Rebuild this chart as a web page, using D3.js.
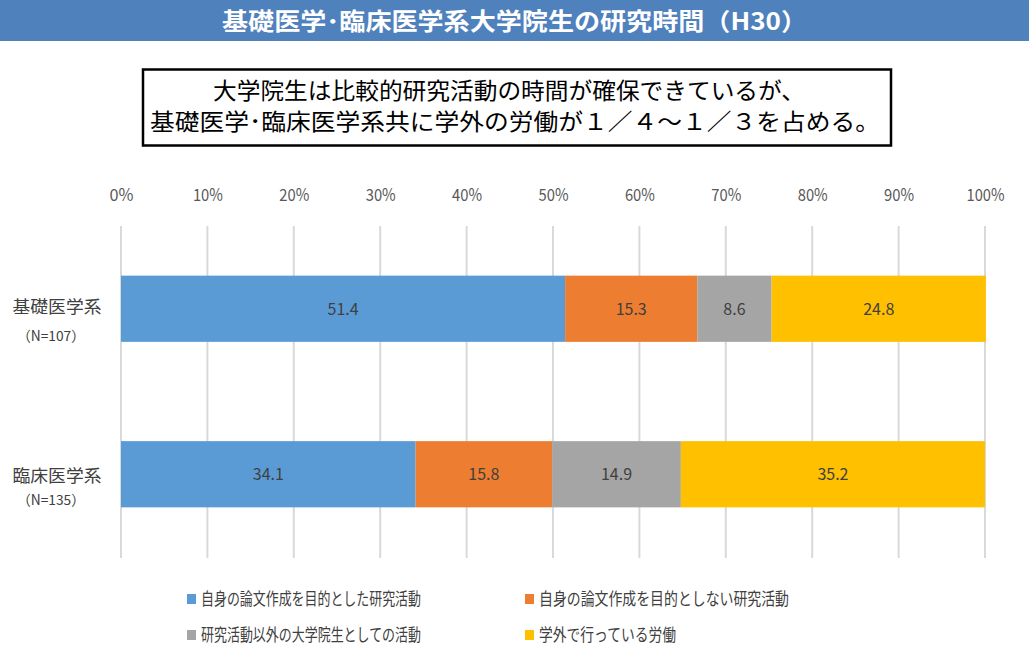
<!DOCTYPE html>
<html><head><meta charset="utf-8">
<script src="https://cdn.jsdelivr.net/npm/d3@7"></script>
<style>
html,body{margin:0;padding:0;background:#fff;}
svg{display:block;font-family:"Noto Sans CJK JP","Noto Sans",sans-serif;}
</style></head>
<body>
<svg id="c" width="1029" height="657"></svg>
<script>
const categories = ["基礎医学系", "臨床医学系"];
const sampleLabels = ["（N=107）", "（N=135）"];
const seriesNames = ["自身の論文作成を目的とした研究活動", "自身の論文作成を目的としない研究活動", "研究活動以外の大学院生としての活動", "学外で行っている労働"];
const ownPaperResearch = [51.4, 34.1];
const otherResearch = [15.3, 15.8];
const otherActivities = [8.6, 14.9];
const outsideWork = [24.8, 35.2];
const tickValues = [0, 10, 20, 30, 40, 50, 60, 70, 80, 90, 100];
const title = "基礎医学･臨床医学系大学院生の研究時間（H30）";
const noteLines = ["大学院生は比較的研究活動の時間が確保できているが、", "基礎医学･臨床医学系共に学外の労働が１／４～１／３を占める。"];
const colors = ["#5B9BD5", "#ED7D31", "#A5A5A5", "#FFC000"];

const svg = d3.select("#c");
const W = 1029;

// header
svg.append("rect").attr("x",0).attr("y",0).attr("width",W).attr("height",41).attr("fill","#4F81BD");
svg.append("text").attr("x",W/2).attr("y",30).attr("text-anchor","middle")
  .attr("fill","#fff").attr("font-size",24).attr("font-weight","bold")
  .attr("textLength",585).attr("lengthAdjust","spacingAndGlyphs").text(title);

// note box
svg.append("rect").attr("x",143).attr("y",69.5).attr("width",748).attr("height",76)
  .attr("fill","#fff").attr("stroke","#000").attr("stroke-width",2.5);
const noteLen = [592, 730];
noteLines.forEach((t,i)=>{
  svg.append("text").attr("x",i===0?509:515).attr("y",99+i*31).attr("text-anchor","middle")
    .attr("fill","#000").attr("font-size",23)
    .attr("textLength",noteLen[i]).attr("lengthAdjust","spacingAndGlyphs").text(t);
});

// chart
const x = d3.scaleLinear().domain([0,100]).range([121,985]);
const y = d3.scaleBand().domain(categories).range([226,557]).paddingInner(0.6).paddingOuter(0.3);

const data = categories.map((c,i)=>({cat:c, vals:[ownPaperResearch[i], otherResearch[i], otherActivities[i], outsideWork[i]]}));
const keys = [0,1,2,3];
const stacked = d3.stack().keys(keys).value((d,k)=>d.vals[k])(data);

// gridlines
svg.append("g").selectAll("line").data(tickValues).join("line")
  .attr("x1",d=>x(d)).attr("x2",d=>x(d)).attr("y1",226).attr("y2",558)
  .attr("stroke","#D9D9D9").attr("stroke-width",2);

// top axis labels
const axis = d3.axisTop(x).tickValues(tickValues).tickFormat(d=>d+"%").tickSize(0).tickPadding(0);
const ag = svg.append("g").attr("transform","translate(0,201)").call(axis);
ag.select(".domain").remove();
ag.selectAll("text").attr("font-size",17).attr("fill","#595959").attr("font-family","'Noto Sans CJK JP','Noto Sans',sans-serif")
  .attr("textLength",d=>d===100?38:(d===0?24:30)).attr("lengthAdjust","spacingAndGlyphs");

// bars
stacked.forEach((s,k)=>{
  const g = svg.append("g");
  g.selectAll("rect").data(s).join("rect")
    .attr("x",d=>x(d[0])).attr("width",d=>x(d[1])-x(d[0]))
    .attr("y",d=>y(d.data.cat)).attr("height",y.bandwidth())
    .attr("fill",colors[k]);
  g.selectAll("text").data(s).join("text")
    .attr("x",d=>(x(d[0])+x(d[1]))/2).attr("y",d=>y(d.data.cat)+y.bandwidth()/2+6)
    .attr("text-anchor","middle").attr("font-size",16).attr("fill","#404040")
    .text(d=>d.data.vals[k].toFixed(1));
});

// category labels
const catOff = [[4,32],[8,31]];
categories.forEach((c,i)=>{
  const cy = y(c)+y.bandwidth()/2;
  svg.append("text").attr("x",57).attr("y",cy+catOff[i][0]).attr("text-anchor","middle")
    .attr("font-size",17).attr("fill","#404040")
    .attr("textLength",89).attr("lengthAdjust","spacingAndGlyphs").text(c);
  svg.append("text").attr("x",51).attr("y",cy+catOff[i][1]).attr("text-anchor","middle")
    .attr("font-size",14).attr("fill","#404040")
    .attr("textLength",68).attr("lengthAdjust","spacingAndGlyphs").text(sampleLabels[i]);
});

// legend
const legPos = [[187,598],[525,598],[187,634],[525,634]];
const legLen = [220, 250, 220, 137];
seriesNames.forEach((n,i)=>{
  const [lx,ly] = legPos[i];
  svg.append("rect").attr("x",lx).attr("y",ly-4).attr("width",9).attr("height",10).attr("fill",colors[i]);
  svg.append("text").attr("x",lx+14).attr("y",ly+7).attr("font-size",17).attr("fill","#404040")
    .attr("textLength",legLen[i]).attr("lengthAdjust","spacingAndGlyphs").text(n);
});
</script>
</body></html>
